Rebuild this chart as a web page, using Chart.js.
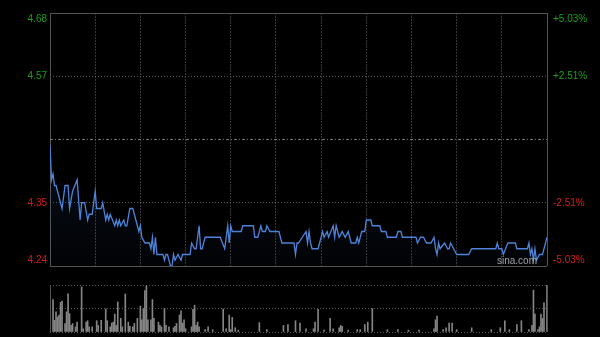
<!DOCTYPE html>
<html>
<head>
<meta charset="utf-8">
<script src="https://cdn.jsdelivr.net/npm/chart.js@4/dist/chart.umd.min.js"></script>
<style>
  html, body { margin: 0; padding: 0; background: #000; }
  #wrap { position: relative; width: 600px; height: 337px; }
  canvas { position: absolute; left: 0; top: 0; }
</style>
</head>
<body>
<div id="wrap">
  <canvas id="price-chart" width="600" height="337"></canvas>
  <canvas id="vol-chart" width="600" height="337"></canvas>
</div>
<script>
// minute index (0..330) and price
const minutes = [0,1,2,3,4,5,6,8,9,10,12,13,15,18,20,21,23,25,26,28,30,31,34,35,37,38,39,40,43,44,45,46,47,49,50,51,53,55,58,59,60,61,63,66,67,68,69,70,71,75,76,77,78,80,81,82,83,85,87,88,93,94,96,97,99,100,101,103,113,116,118,119,120,121,127,128,135,136,138,140,141,143,144,146,152,154,162,163,164,165,170,171,172,173,174,178,179,181,182,184,185,188,189,190,192,194,196,198,199,200,203,204,205,207,209,210,213,214,219,220,223,224,230,231,233,234,243,244,246,248,250,253,255,256,257,258,259,262,264,265,266,268,270,278,280,296,297,298,300,301,304,309,310,317,318,319,320,321,322,323,325,327,328,330];
const prices = [4.45,4.39,4.40,4.38,4.38,4.37,4.36,4.34,4.36,4.38,4.38,4.34,4.37,4.39,4.32,4.35,4.35,4.32,4.33,4.33,4.37,4.34,4.34,4.35,4.32,4.33,4.32,4.33,4.31,4.32,4.31,4.32,4.31,4.32,4.31,4.31,4.34,4.34,4.31,4.30,4.31,4.29,4.28,4.28,4.27,4.29,4.26,4.29,4.26,4.26,4.25,4.26,4.26,4.24,4.24,4.26,4.25,4.26,4.25,4.26,4.26,4.28,4.27,4.27,4.31,4.27,4.27,4.29,4.29,4.27,4.31,4.28,4.31,4.30,4.30,4.31,4.31,4.29,4.29,4.31,4.30,4.30,4.31,4.30,4.30,4.28,4.28,4.26,4.28,4.28,4.30,4.28,4.30,4.28,4.27,4.27,4.28,4.30,4.29,4.30,4.29,4.31,4.29,4.31,4.29,4.30,4.29,4.30,4.29,4.28,4.28,4.29,4.28,4.30,4.30,4.32,4.32,4.31,4.31,4.30,4.30,4.29,4.29,4.30,4.30,4.29,4.29,4.28,4.29,4.29,4.28,4.28,4.29,4.27,4.26,4.28,4.27,4.28,4.27,4.27,4.28,4.27,4.26,4.26,4.27,4.27,4.28,4.27,4.27,4.26,4.28,4.28,4.27,4.27,4.28,4.26,4.27,4.25,4.27,4.25,4.26,4.26,4.27,4.29];

// volume bars (relative units, 100 = panel top)
const volMinutes = [2,3,4,5,6,7,8,10,11,12,13,14,15,17,18,21,22,24,25,26,28,31,32,34,37,38,40,41,42,43,44,45,47,48,50,52,53,55,56,58,60,61,62,63,64,65,67,68,69,72,73,74,76,77,79,82,83,84,86,87,88,89,90,94,95,96,97,98,99,103,105,108,115,117,119,120,121,123,125,139,144,155,158,163,166,170,175,176,178,182,186,188,192,193,194,198,204,206,209,211,214,224,231,238,245,255,256,257,261,263,265,267,270,280,293,299,302,305,310,313,318,320,321,322,324,325,326,327,328,330];
const volumes = [69,25,43,32,36,63,66,18,43,81,39,14,18,11,21,96,7,21,24,11,11,24,14,25,49,24,11,19,21,38,14,64,29,11,81,21,12,11,18,29,55,26,50,88,98,26,26,69,29,21,14,11,50,14,11,9,12,18,36,45,19,26,7,11,48,57,14,21,11,5,11,5,49,7,36,5,31,9,4,20,5,14,16,24,19,7,7,21,48,4,29,7,9,14,12,4,5,5,16,21,50,5,5,4,4,7,26,34,5,9,19,19,5,9,5,9,24,5,16,24,5,14,89,38,5,11,38,29,62,100];

const priceTicks = [4.24, 4.35, 4.46, 4.57, 4.68];
const priceLabels = ['4.24', '4.35', '', '4.57', '4.68'];
const pctLabels = ['-5.03%', '-2.51%', '', '+2.51%', '+5.03%'];
const prevClose = 4.46;

const FONT = '10px "Liberation Sans", Arial, sans-serif';

const sideLabels = {
  id: 'sideLabels',
  afterDraw(chart) {
    const ctx = chart.ctx, a = chart.chartArea, y = chart.scales.y;
    ctx.save();
    ctx.font = FONT;
    ctx.textBaseline = 'middle';
    priceTicks.forEach((v, i) => {
      if (!priceLabels[i]) return;
      let py = y.getPixelForValue(v);
      py = Math.min(Math.max(py, a.top + 6), a.bottom - 6);
      ctx.fillStyle = v > prevClose ? '#1c9e1c' : '#d21e1e';
      ctx.textAlign = 'right';
      ctx.fillText(priceLabels[i], a.left - 3, py);
      ctx.textAlign = 'left';
      ctx.fillText(pctLabels[i], a.right + 6, py);
    });
    ctx.fillStyle = 'rgba(190,190,190,0.85)';
    ctx.textAlign = 'right';
    ctx.fillText('sina.com', a.right - 10, a.bottom - 5);
    ctx.restore();
  }
};

new Chart(document.getElementById('price-chart'), {
  type: 'line',
  data: {
    datasets: [{
      data: minutes.map((m, i) => ({ x: m, y: prices[i] })),
      borderColor: '#4d84da',
      borderWidth: 1.3,
      pointRadius: 0,
      tension: 0,
      fill: 'start',
      backgroundColor: (c) => {
        const a = c.chart.chartArea;
        if (!a) return 'transparent';
        const g = c.chart.ctx.createLinearGradient(0, a.top, 0, a.bottom);
        g.addColorStop(0, 'rgba(50,90,170,0.28)');
        g.addColorStop(1, 'rgba(50,90,170,0.03)');
        return g;
      }
    }]
  },
  options: {
    responsive: false,
    animation: false,
    devicePixelRatio: 1,
    layout: { padding: { left: 50, right: 53, top: 13, bottom: 71 } },
    plugins: { legend: { display: false }, tooltip: { enabled: false } },
    scales: {
      x: {
        type: 'linear', min: 0, max: 330,
        ticks: { display: false, stepSize: 30 },
        grid: {
          drawTicks: false,
          color: (c) => (c.index === 0 || c.index === 11) ? '#555' : '#363636'
        },
        border: { display: false, dash: (c) => (c.index === 0 || c.index === 11) ? [] : [2, 1] }
      },
      y: {
        min: 4.24, max: 4.68,
        afterBuildTicks: (s) => { s.ticks = priceTicks.map(v => ({ value: v })); },
        ticks: { display: false },
        grid: {
          drawTicks: false,
          color: (c) => (c.index === 0 || c.index === 4) ? '#555' : (c.index === 2 ? '#777' : '#5a5a5a')
        },
        border: {
          display: false,
          dash: (c) => (c.index === 0 || c.index === 4) ? [] : (c.index === 2 ? [3, 2, 1, 2] : [1, 2])
        }
      }
    }
  },
  plugins: [sideLabels]
});

new Chart(document.getElementById('vol-chart'), {
  type: 'bar',
  data: {
    datasets: [{
      data: volMinutes.map((m, i) => ({ x: m, y: volumes[i] })),
      backgroundColor: '#858585',
      barThickness: 1
    }]
  },
  options: {
    responsive: false,
    animation: false,
    devicePixelRatio: 1,
    layout: { padding: { left: 50, right: 53, top: 285, bottom: 5 } },
    plugins: { legend: { display: false }, tooltip: { enabled: false } },
    scales: {
      x: {
        type: 'linear', min: 0, max: 330, offset: false,
        afterBuildTicks: (s) => { s.ticks = [{ value: 0 }, { value: 330 }]; },
        ticks: { display: false },
        grid: { drawTicks: false, offset: false, color: '#555' },
        border: { display: false }
      },
      y: {
        min: 0, max: 100,
        afterBuildTicks: (s) => { s.ticks = [{ value: 0 }, { value: 50 }, { value: 100 }]; },
        ticks: { display: false },
        grid: { drawTicks: false, color: '#5a5a5a' },
        border: { display: false, dash: [1, 2] }
      }
    }
  }
});
</script>
</body>
</html>
